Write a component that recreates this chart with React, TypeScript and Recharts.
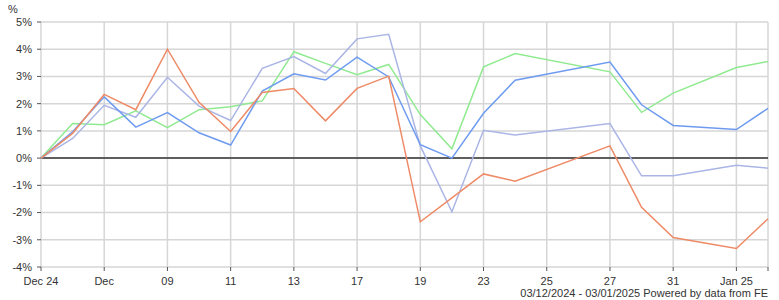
import { LineChart, Line, XAxis, YAxis, CartesianGrid, ReferenceLine } from "recharts";

// trading day index along the axis (a few holidays have no point)
const dayIndex = [0, 1, 2, 3, 4, 5, 6, 7, 8, 9, 10, 11, 12, 13, 14, 15, 18, 19, 20, 22, 23];

const orange = [0, 0.91, 2.34, 1.78, 4.0, 2.05, 0.98, 2.41, 2.56, 1.37, 2.56, 3.01, -2.34, -1.46, -0.58, -0.85, 0.45, -1.81, -2.92, -3.32, -2.23];
const blue = [0, 0.97, 2.25, 1.14, 1.67, 0.93, 0.48, 2.46, 3.1, 2.87, 3.71, 2.98, 0.49, 0, 1.65, 2.86, 3.53, 1.96, 1.2, 1.05, 1.83];
const lavender = [0, 0.72, 1.94, 1.5, 2.97, 1.91, 1.38, 3.3, 3.73, 3.11, 4.38, 4.55, 0.45, -1.97, 1.02, 0.85, 1.27, -0.65, -0.65, -0.26, -0.37];
const green = [0, 1.27, 1.23, 1.74, 1.12, 1.78, 1.89, 2.1, 3.91, 3.48, 3.06, 3.44, 1.6, 0.34, 3.35, 3.84, 3.17, 1.68, 2.39, 3.33, 3.55];

const xTicks = [0, 2, 4, 6, 8, 10, 12, 14, 16, 18, 20, 22, 23];
const xTickLabels = ["Dec 24", "Dec", "09", "11", "13", "17", "19", "23", "25", "27", "31", "Jan 25", ""];
const yTicks = [-4, -3, -2, -1, 0, 1, 2, 3, 4, 5];

const data = dayIndex.map((x, i) => ({
  x,
  orange: orange[i],
  blue: blue[i],
  lavender: lavender[i],
  green: green[i],
}));

const FONT = '"Liberation Sans", Arial, sans-serif';
const tickStyle = { fontSize: 11, fill: "#333", fontFamily: FONT };

export default function App() {
  return (
    <div style={{ position: "absolute", left: 0, top: 0, width: 779, height: 300, fontFamily: FONT, background: "#fff" }}>
      <LineChart width={779} height={300} data={data} margin={{ top: 22, right: 11, bottom: 0, left: 0 }}>
        <CartesianGrid stroke="#d6d6d6" strokeWidth={1.5} />
        <XAxis
          dataKey="x"
          type="number"
          domain={[0, 23]}
          ticks={xTicks}
          tickFormatter={(v: number) => xTickLabels[xTicks.indexOf(v)] ?? ""}
          interval={0}
          height={33}
          axisLine={false}
          tickSize={4}
          tickMargin={6}
          tickLine={{ stroke: "#555" }}
          tick={tickStyle}
        />
        <YAxis
          type="number"
          domain={[-4, 5]}
          ticks={yTicks}
          tickFormatter={(v: number) => `${v}%`}
          width={41}
          axisLine={false}
          tickSize={4}
          tickMargin={5}
          tickLine={{ stroke: "#555" }}
          tick={tickStyle}
        />
        <ReferenceLine y={0} stroke="#333" strokeWidth={1.5} />
        <Line dataKey="green" stroke="#90ea90" strokeWidth={1.5} dot={false} isAnimationActive={false} />
        <Line dataKey="lavender" stroke="#aab5e6" strokeWidth={1.5} dot={false} isAnimationActive={false} />
        <Line dataKey="blue" stroke="#6e9bef" strokeWidth={1.5} dot={false} isAnimationActive={false} />
        <Line dataKey="orange" stroke="#ee8a66" strokeWidth={1.5} dot={false} isAnimationActive={false} />
      </LineChart>
      <div style={{ position: "absolute", left: 8, top: 4, fontSize: 11, lineHeight: "11px", color: "#333" }}>%</div>
      <div style={{ position: "absolute", right: 11, top: 288, fontSize: 11, lineHeight: "11px", color: "#333", whiteSpace: "nowrap" }}>
        03/12/2024 - 03/01/2025 Powered by data from FE
      </div>
    </div>
  );
}
